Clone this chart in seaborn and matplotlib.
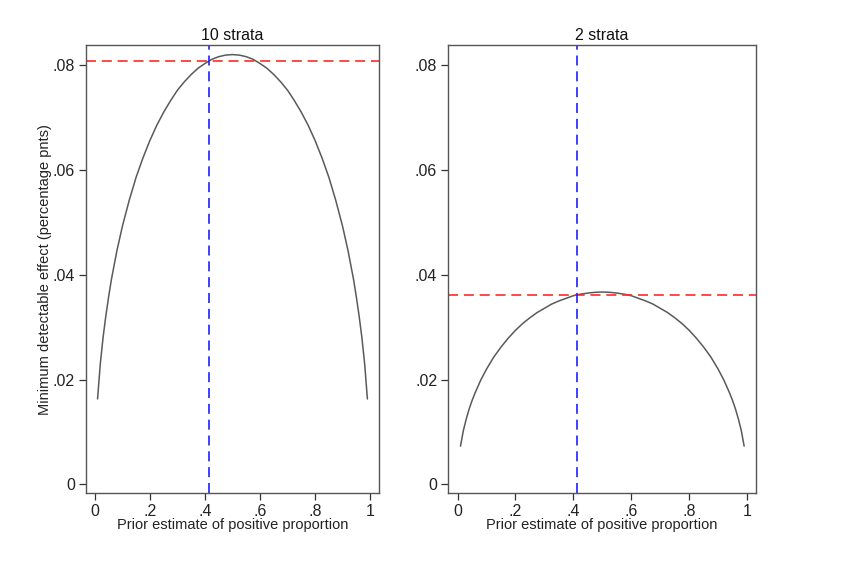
import matplotlib
matplotlib.use("Agg")
import matplotlib.pyplot as plt
import seaborn as sns
import pandas as pd

p_vals = [0.01, 0.02, 0.03, 0.04, 0.05, 0.06, 0.08, 0.10, 0.125, 0.15, 0.175, 0.2, 0.225, 0.25, 0.275,
          0.3, 0.325, 0.35, 0.375, 0.4, 0.425, 0.45, 0.475, 0.5, 0.525, 0.55, 0.575, 0.6, 0.625,
          0.65, 0.675, 0.7, 0.725, 0.75, 0.775, 0.8, 0.825, 0.85,
          0.875, 0.9, 0.92, 0.94, 0.95, 0.96, 0.97, 0.98, 0.99]
mde_10 = [0.0163, 0.0230, 0.0280, 0.0321, 0.0357, 0.0390, 0.0445, 0.0492, 0.0542, 0.0586, 0.0623,
          0.0656, 0.0685, 0.0710, 0.0732, 0.0752, 0.0768, 0.0782, 0.0794, 0.0803, 0.0811, 0.0816,
          0.0819, 0.0820, 0.0819, 0.0816, 0.0811, 0.0803, 0.0794,
          0.0782, 0.0768, 0.0752, 0.0732, 0.0710, 0.0685, 0.0656, 0.0623, 0.0586, 0.0542, 0.0492, 0.0445,
          0.0390, 0.0357, 0.0321, 0.0280, 0.0230, 0.0163]
mde_2 = [0.0073, 0.0103, 0.0125, 0.0144, 0.0160, 0.0174, 0.0199, 0.0220, 0.0243, 0.0262, 0.0279,
         0.0294, 0.0307, 0.0318, 0.0328, 0.0336, 0.0344, 0.0350, 0.0355, 0.0360, 0.0363, 0.0365,
         0.03665, 0.0367, 0.03665, 0.0365, 0.0363, 0.0360, 0.0355,
         0.0350, 0.0344, 0.0336, 0.0328, 0.0318, 0.0307, 0.0294, 0.0279, 0.0262, 0.0243, 0.0220, 0.0199,
         0.0174, 0.0160, 0.0144, 0.0125, 0.0103, 0.0073]
titles = ["10 strata", "2 strata"]
prior_x = [0.413, 0.413]
mde_at_prior = [0.0808, 0.0361]
x_ticks = [0, 0.2, 0.4, 0.6, 0.8, 1]
x_ticklabels = ["0", ".2", ".4", ".6", ".8", "1"]
y_ticks = [0, 0.02, 0.04, 0.06, 0.08]
y_ticklabels = ["0", ".02", ".04", ".06", ".08"]

sns.set_theme(style="ticks")
plt.rcParams["font.family"] = ["Liberation Sans", "DejaVu Sans"]

fig = plt.figure(figsize=(8.65, 5.68), dpi=100)
fig.patch.set_facecolor("white")
positions = [[0.0994, 0.1315, 0.3384, 0.789], [0.5183, 0.1315, 0.3557, 0.789]]
series = [mde_10, mde_2]

for i in range(2):
    ax = fig.add_axes(positions[i])
    df = pd.DataFrame({"p": p_vals, "mde": series[i]})
    sns.lineplot(data=df, x="p", y="mde", ax=ax, color="#5a5a5a", linewidth=1.1)
    ax.axhline(mde_at_prior[i], color="#ff2a2a", linestyle=(0, (6, 3.5)), linewidth=1.2)
    ax.axvline(prior_x[i], color="#2020ff", linestyle=(0, (6, 3.5)), linewidth=1.2)
    ax.set_xlim(-0.032, 1.031)
    ax.set_ylim(-0.0017, 0.0838)
    ax.set_xticks(x_ticks)
    ax.set_xticklabels(x_ticklabels)
    ax.set_yticks(y_ticks)
    ax.set_yticklabels(y_ticklabels)
    ax.tick_params(axis="both", labelsize=11.5, length=5, width=0.9, color="#333333",
                   labelcolor="#222222", pad=3)
    for s in ax.spines.values():
        s.set_visible(True)
        s.set_color("#555555")
        s.set_linewidth(1.0)
    ax.set_title(titles[i], fontsize=11.5, pad=4, color="#111111")
    ax.set_xlabel("Prior estimate of positive proportion", fontsize=10.5, labelpad=-1, color="#222222")
    if i == 0:
        ax.set_ylabel("Minimum detectable effect (percentage pnts)", fontsize=10.5, labelpad=0,
                      color="#222222")
    else:
        ax.set_ylabel("")

fig.savefig("out.png", dpi=100, facecolor="white")
